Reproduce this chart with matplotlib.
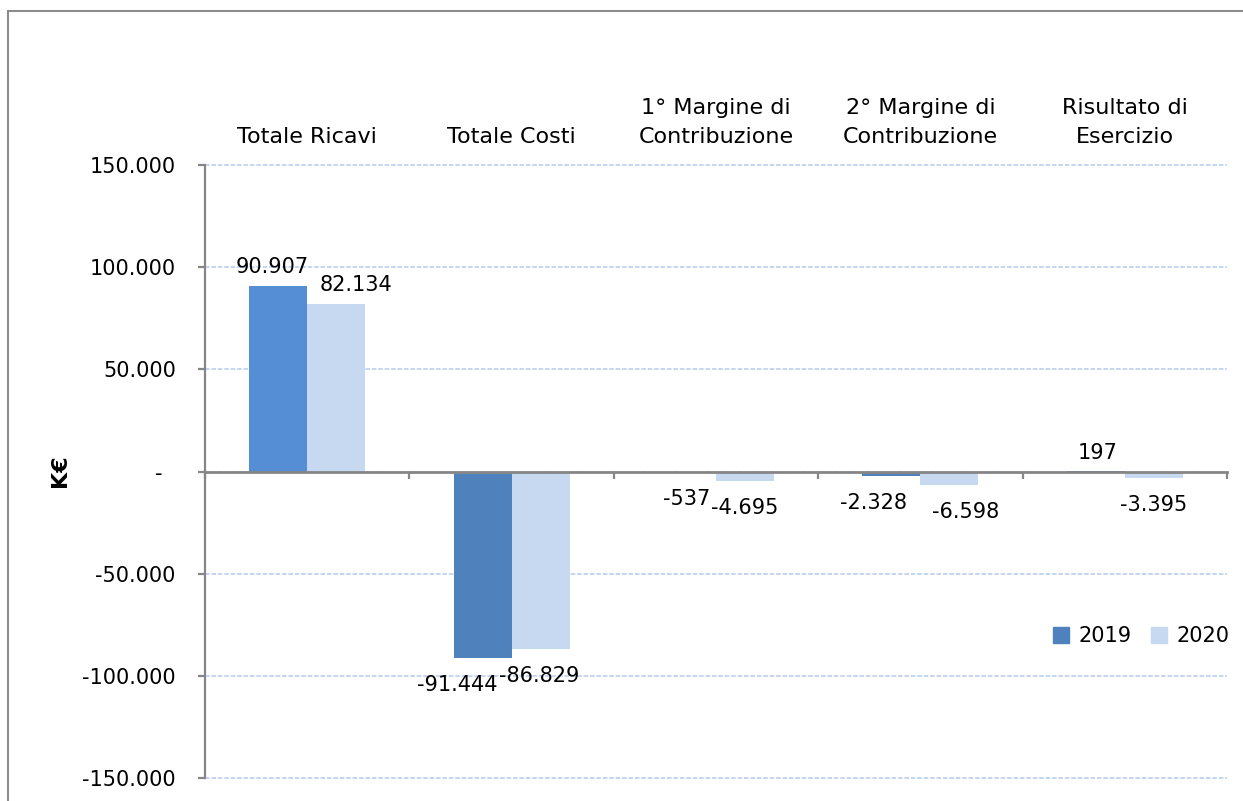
import matplotlib
matplotlib.use("Agg")
import matplotlib.pyplot as plt
from matplotlib.patches import Rectangle, Patch
from matplotlib.ticker import FuncFormatter, FixedLocator
import numpy as np

# data (K€)
categories = ["Totale Ricavi", "Totale Costi", "1° Margine di\nContribuzione",
              "2° Margine di\nContribuzione", "Risultato di\nEsercizio"]
values_2019 = [90907, -91444, -537, -2328, 197]
values_2020 = [82134, -86829, -4695, -6598, -3395]
series_names = ["2019", "2020"]

# style
col_2019 = ["#558ED5", "#4F81BD", "#4F81BD", "#4F81BD", "#4F81BD"]
col_2020 = "#C6D9F1"
axis_gray = "#868686"
grid_col = "#B4CBEE"
font_size = 15
# horizontal nudges of the data labels (pixels), as placed in the original
nudge_2019 = [-6, -25, 0, -18, 2]
nudge_2020 = [20, -1, 0, 16, 0]


def fmt_k(v, pos=None):
    if v == 0:
        return "-  "
    s = f"{abs(int(round(v))):,}".replace(",", ".")
    return ("-" if v < 0 else "") + s


plt.rcParams["font.family"] = ["DejaVu Sans"]
plt.rcParams["axes.unicode_minus"] = False

W, H = 1243, 801
fig = plt.figure(figsize=(W / 100, H / 100), dpi=100)
ax = fig.add_axes([205 / W, (H - 778) / H, (1227 - 205) / W, (778 - 165) / H])

x = np.arange(len(categories))
w = 0.284
b1 = ax.bar(x - w / 2, values_2019, w, color=col_2019, zorder=3, label=series_names[0])
b2 = ax.bar(x + w / 2, values_2020, w, color=col_2020, zorder=3, label=series_names[1])

ax.set_xlim(-0.5, len(categories) - 0.5)
ax.set_ylim(-150000, 150000)
ax.set_yticks(np.arange(-150000, 150001, 50000))
ax.yaxis.set_major_formatter(FuncFormatter(fmt_k))

# grid
ax.yaxis.grid(True, color=grid_col, linestyle=(0, (3, 1.2)), linewidth=1.1, zorder=0)
ax.set_axisbelow(True)
for gl in ax.get_ygridlines():
    gl.set_clip_on(False)

# spines
for s in ["top", "right"]:
    ax.spines[s].set_visible(False)
ax.spines["left"].set_color(axis_gray)
ax.spines["left"].set_linewidth(1.6)
ax.spines["bottom"].set_position(("data", 0))
ax.spines["bottom"].set_color(axis_gray)
ax.spines["bottom"].set_linewidth(2)
ax.spines["bottom"].set_zorder(4)

ax.xaxis.set_major_locator(FixedLocator(np.arange(-0.5, len(categories), 1.0)))
ax.set_xticklabels([])
ax.tick_params(axis="x", direction="out", length=5, width=1.6, color=axis_gray)
ax.tick_params(axis="y", direction="out", length=5, width=1.6, color=axis_gray,
               labelsize=font_size, pad=16)

# category labels above the plot
for i, c in enumerate(categories):
    ax.annotate(c, xy=(i, 1), xycoords=("data", "axes fraction"),
                xytext=(0, 16), textcoords="offset points",
                ha="center", va="baseline", fontsize=font_size + 1, linespacing=1.55)

# data labels
for bars, vals, nud in [(b1, values_2019, nudge_2019), (b2, values_2020, nudge_2020)]:
    for rect, v, dx in zip(bars, vals, nud):
        cx = rect.get_x() + rect.get_width() / 2
        if v >= 0:
            ax.annotate(fmt_k(v), xy=(cx, v), xytext=(dx * 0.72, 6),
                        textcoords="offset points", ha="center", va="bottom",
                        fontsize=font_size)
        else:
            ax.annotate(fmt_k(v), xy=(cx, v), xytext=(dx * 0.72, -12),
                        textcoords="offset points", ha="center", va="top",
                        fontsize=font_size)

# y label
fig.text(60 / W, (H - 471) / H, "K€", rotation=90, ha="center", va="center",
         fontsize=font_size + 1, fontweight="bold")

# legend
handles = [Patch(color="#4F81BD", label=series_names[0]),
           Patch(color=col_2020, label=series_names[1])]
fig.legend(handles=handles, loc="center right", bbox_to_anchor=(1238 / W, (H - 636) / H),
           ncol=2, frameon=False, fontsize=font_size, handlelength=0.8,
           handleheight=0.8, handletextpad=0.45, columnspacing=0.9, borderaxespad=0)

# chart border (cropped on right and bottom)
fig.patches.append(Rectangle((8 / W, -0.1), 1.2, (H - 11) / H + 0.1,
                             transform=fig.transFigure, fill=False,
                             edgecolor="#8C8C8C", linewidth=1.5))

fig.savefig("out.png", dpi=100)
